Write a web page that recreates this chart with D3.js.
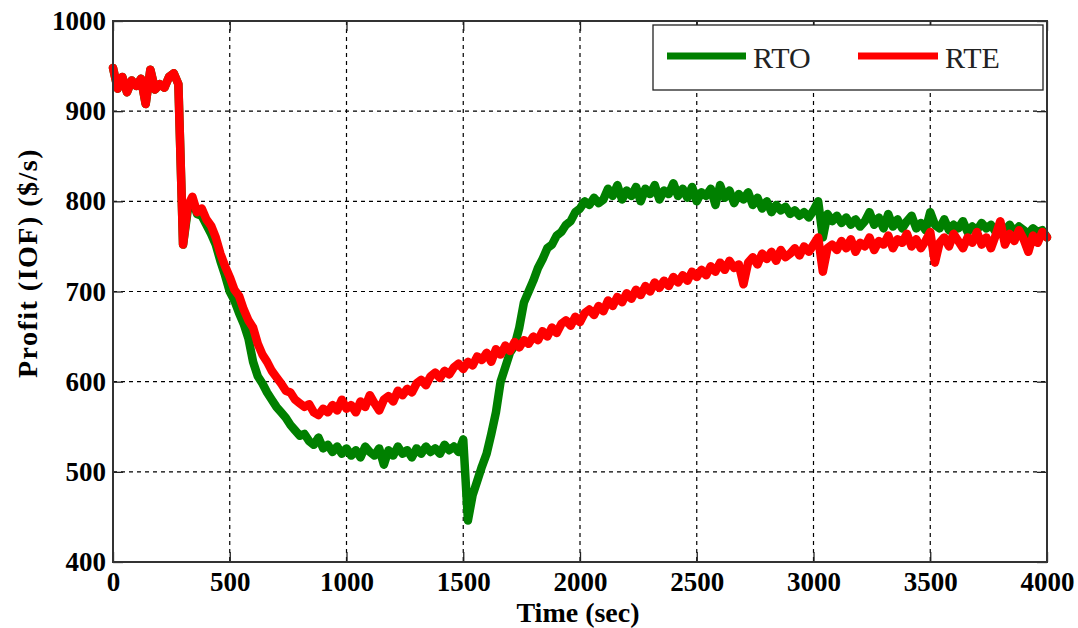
<!DOCTYPE html>
<html>
<head>
<meta charset="utf-8">
<script src="https://cdn.jsdelivr.net/npm/d3@7"></script>
<style>
  html, body { margin: 0; padding: 0; background: #fff; }
  svg { display: block; }
</style>
</head>
<body>
<svg id="chart" width="1078" height="628"></svg>
<script>
// Sampling interval of both profit traces (seconds)
const timeStep = 20;
const timeMax = 4000;

// Profit (IOF) of the RTO scheme, one value every 20 s from 0 to 4000 s
const rtoProfit = [
  948,925,938,921,934,928,936,908,946,924,
  930,926,938,942,930,752,790,802,786,784,
  774,764,752,734,718,700,690,676,664,648,
  622,606,598,588,580,572,566,560,552,546,
  540,542,534,530,538,526,530,522,528,520,
  526,518,524,516,528,522,518,526,508,524,
  518,528,520,524,516,526,520,528,522,526,
  520,530,524,528,522,536,446,474,490,506,
  520,542,566,600,616,632,640,660,688,700,
  712,726,736,748,752,762,766,774,778,788,
  792,800,796,804,798,802,814,806,818,802,
  812,806,816,800,814,808,818,802,812,808,
  820,806,814,804,816,800,810,806,814,796,
  818,804,812,798,808,802,810,796,804,792,
  800,788,796,790,794,786,790,784,788,782,
  790,800,760,786,778,784,776,782,774,780,
  772,778,788,774,782,770,786,772,780,770,
  778,784,770,776,768,788,774,770,780,768,
  774,770,778,766,772,768,776,770,774,766,
  772,768,774,766,772,768,764,770,766,768,
  760
];

// Profit (IOF) of the RTE scheme, same sampling
const rteProfit = [
  948,925,938,921,934,928,936,908,946,924,
  930,926,938,942,930,752,795,805,788,792,
  780,773,760,742,728,716,702,695,680,668,
  660,642,630,622,612,605,598,590,588,580,
  576,572,575,566,563,570,566,574,568,580,
  570,574,566,578,572,585,576,568,580,584,
  578,590,585,592,588,598,602,596,606,610,
  604,612,608,616,620,614,622,618,628,624,
  632,622,636,630,640,634,644,638,646,642,
  650,646,656,650,660,654,664,668,662,672,
  666,676,680,674,684,678,690,684,694,688,
  698,692,702,696,706,700,710,704,712,706,
  716,710,718,712,722,716,724,718,728,722,
  732,724,734,726,730,708,732,738,730,742,
  736,744,734,746,738,742,748,740,750,744,
  752,760,722,748,752,746,756,748,758,744,
  754,750,760,746,756,752,762,748,758,754,
  764,750,758,748,756,766,732,754,760,750,
  764,756,748,760,754,766,752,760,748,762,
  778,752,764,756,768,758,744,762,754,766,
  760
];

const xTicks = [0, 500, 1000, 1500, 2000, 2500, 3000, 3500, 4000];
const yTicks = [400, 500, 600, 700, 800, 900, 1000];
const seriesNames = ["RTO", "RTE"];
const seriesColors = ["#008000", "#ff0000"];

const svg = d3.select("#chart");
const plot = { left: 113, right: 1047, top: 21, bottom: 562 };

const x = d3.scaleLinear().domain([0, timeMax]).range([plot.left, plot.right]);
const y = d3.scaleLinear().domain([400, 1000]).range([plot.bottom, plot.top]);

const times = d3.range(0, timeMax + 1, timeStep);
const series = [rtoProfit, rteProfit].map((vals, k) => ({
  name: seriesNames[k],
  color: seriesColors[k],
  points: vals.map((v, i) => [times[i], v])
}));

const serif = "'Liberation Serif', 'Times New Roman', serif";

// dashed grid
const grid = svg.append("g").attr("stroke", "#000").attr("stroke-width", 1.2)
  .attr("stroke-dasharray", "4,4");
xTicks.slice(1, -1).forEach(t => {
  grid.append("line").attr("x1", x(t)).attr("x2", x(t))
    .attr("y1", plot.top).attr("y2", plot.bottom);
});
yTicks.slice(1, -1).forEach(t => {
  grid.append("line").attr("y1", y(t)).attr("y2", y(t))
    .attr("x1", plot.left).attr("x2", plot.right);
});

// data lines
const line = d3.line().x(d => x(d[0])).y(d => y(d[1])).curve(d3.curveLinear);
svg.append("g").selectAll("path").data(series).join("path")
  .attr("d", d => line(d.points))
  .attr("fill", "none")
  .attr("stroke", d => d.color)
  .attr("stroke-width", 8.5)
  .attr("stroke-linejoin", "round")
  .attr("stroke-linecap", "round");

// axes with inward ticks on all four sides
const tickLen = 10;
const axisBottom = d3.axisBottom(x).tickValues(xTicks).tickSize(-tickLen).tickPadding(10).tickFormat(d3.format("d"));
const axisLeft = d3.axisLeft(y).tickValues(yTicks).tickSize(-tickLen).tickPadding(7).tickFormat(d3.format("d"));
const axisTop = d3.axisTop(x).tickValues(xTicks).tickSize(-tickLen).tickFormat("");
const axisRight = d3.axisRight(y).tickValues(yTicks).tickSize(-tickLen).tickFormat("");

function styleAxis(g) {
  g.select(".domain").remove();
  g.selectAll(".tick line").attr("stroke", "#222").attr("stroke-width", 1.3);
  g.selectAll(".tick text")
    .attr("fill", "#000")
    .style("font-family", serif)
    .style("font-weight", "bold")
    .style("font-size", "27px");
}

svg.append("g").attr("transform", `translate(0,${plot.bottom})`).call(axisBottom).call(styleAxis);
svg.append("g").attr("transform", `translate(${plot.left},0)`).call(axisLeft).call(styleAxis);
svg.append("g").attr("transform", `translate(0,${plot.top})`).call(axisTop).call(styleAxis);
svg.append("g").attr("transform", `translate(${plot.right},0)`).call(axisRight).call(styleAxis);

// plot frame
svg.append("rect")
  .attr("x", plot.left).attr("y", plot.top)
  .attr("width", plot.right - plot.left).attr("height", plot.bottom - plot.top)
  .attr("fill", "none").attr("stroke", "#333").attr("stroke-width", 2);

// axis titles
svg.append("text")
  .attr("x", (plot.left + plot.right) / 2 - 2).attr("y", 622)
  .attr("text-anchor", "middle")
  .style("font-family", serif).style("font-weight", "bold").style("font-size", "28px")
  .text("Time (sec)");

svg.append("text")
  .attr("transform", `translate(37,263) rotate(-90)`)
  .attr("text-anchor", "middle")
  .style("font-family", serif).style("font-weight", "bold").style("font-size", "28px")
  .style("letter-spacing", "1.5px")
  .text("Profit (IOF) ($/s)");

// legend
const legend = svg.append("g");
legend.append("rect")
  .attr("x", 653).attr("y", 25).attr("width", 390).attr("height", 65)
  .attr("fill", "#fff").attr("stroke", "#222").attr("stroke-width", 1.3);
const legendItems = [
  { x1: 667, x2: 746, tx: 753 },
  { x1: 858, x2: 938, tx: 945 }
];
series.forEach((s, i) => {
  const it = legendItems[i];
  legend.append("line")
    .attr("x1", it.x1).attr("x2", it.x2).attr("y1", 56).attr("y2", 56)
    .attr("stroke", s.color).attr("stroke-width", 7);
  legend.append("text")
    .attr("x", it.tx).attr("y", 68)
    .style("font-family", serif).style("font-size", "30px")
    .attr("fill", "#222")
    .text(s.name);
});
</script>
</body>
</html>
